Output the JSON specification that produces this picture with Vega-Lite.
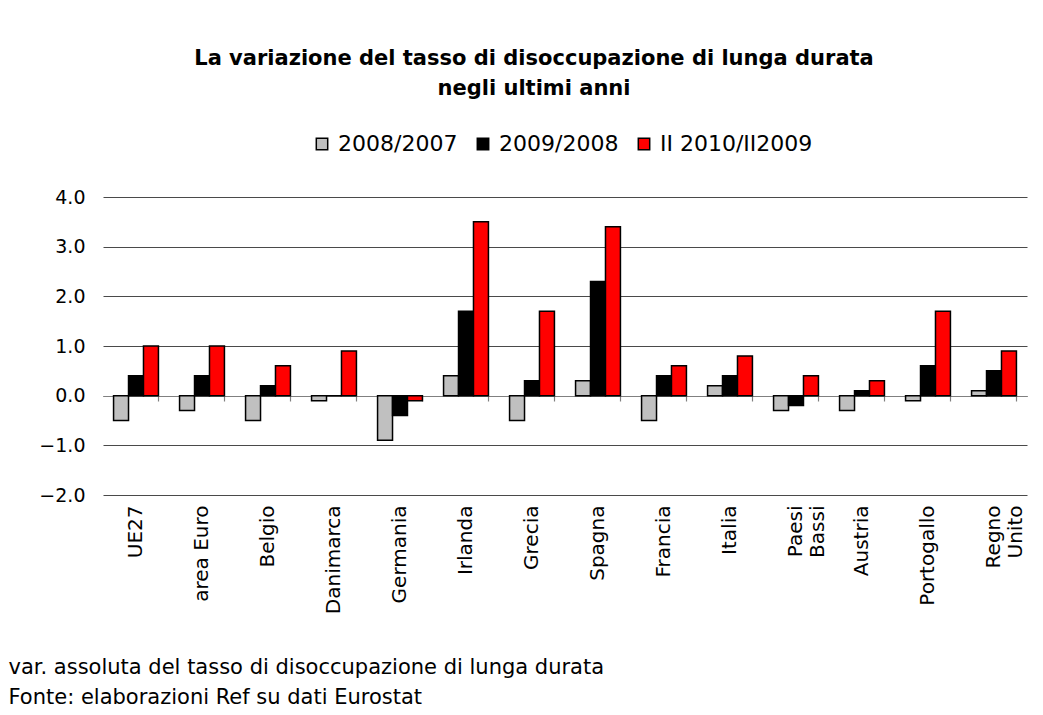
{
  "$schema": "https://vega.github.io/schema/vega-lite/v6.json",
  "width": 924,
  "height": 298,
  "autosize": {"type": "none"},
  "padding": {"left": 103, "top": 197, "right": 16, "bottom": 220},
  "background": "white",
  "title": {
    "text": ["La variazione del tasso di disoccupazione di lunga durata", "negli ultimi anni"],
    "font": "DejaVu Sans",
    "fontSize": 21,
    "fontWeight": "bold",
    "color": "black",
    "lineHeight": 30,
    "anchor": "middle",
    "dx": -31,
    "offset": 34
  },
  "data": {
    "values": [
      {"country": "UE27", "series": "2008/2007", "value": -0.5},
      {"country": "UE27", "series": "2009/2008", "value": 0.4},
      {"country": "UE27", "series": "II 2010/II2009", "value": 1.0},
      {"country": "area Euro", "series": "2008/2007", "value": -0.3},
      {"country": "area Euro", "series": "2009/2008", "value": 0.4},
      {"country": "area Euro", "series": "II 2010/II2009", "value": 1.0},
      {"country": "Belgio", "series": "2008/2007", "value": -0.5},
      {"country": "Belgio", "series": "2009/2008", "value": 0.2},
      {"country": "Belgio", "series": "II 2010/II2009", "value": 0.6},
      {"country": "Danimarca", "series": "2008/2007", "value": -0.1},
      {"country": "Danimarca", "series": "2009/2008", "value": 0.0},
      {"country": "Danimarca", "series": "II 2010/II2009", "value": 0.9},
      {"country": "Germania", "series": "2008/2007", "value": -0.9},
      {"country": "Germania", "series": "2009/2008", "value": -0.4},
      {"country": "Germania", "series": "II 2010/II2009", "value": -0.1},
      {"country": "Irlanda", "series": "2008/2007", "value": 0.4},
      {"country": "Irlanda", "series": "2009/2008", "value": 1.7},
      {"country": "Irlanda", "series": "II 2010/II2009", "value": 3.5},
      {"country": "Grecia", "series": "2008/2007", "value": -0.5},
      {"country": "Grecia", "series": "2009/2008", "value": 0.3},
      {"country": "Grecia", "series": "II 2010/II2009", "value": 1.7},
      {"country": "Spagna", "series": "2008/2007", "value": 0.3},
      {"country": "Spagna", "series": "2009/2008", "value": 2.3},
      {"country": "Spagna", "series": "II 2010/II2009", "value": 3.4},
      {"country": "Francia", "series": "2008/2007", "value": -0.5},
      {"country": "Francia", "series": "2009/2008", "value": 0.4},
      {"country": "Francia", "series": "II 2010/II2009", "value": 0.6},
      {"country": "Italia", "series": "2008/2007", "value": 0.2},
      {"country": "Italia", "series": "2009/2008", "value": 0.4},
      {"country": "Italia", "series": "II 2010/II2009", "value": 0.8},
      {"country": "Paesi Bassi", "series": "2008/2007", "value": -0.3},
      {"country": "Paesi Bassi", "series": "2009/2008", "value": -0.2},
      {"country": "Paesi Bassi", "series": "II 2010/II2009", "value": 0.4},
      {"country": "Austria", "series": "2008/2007", "value": -0.3},
      {"country": "Austria", "series": "2009/2008", "value": 0.1},
      {"country": "Austria", "series": "II 2010/II2009", "value": 0.3},
      {"country": "Portogallo", "series": "2008/2007", "value": -0.1},
      {"country": "Portogallo", "series": "2009/2008", "value": 0.6},
      {"country": "Portogallo", "series": "II 2010/II2009", "value": 1.7},
      {"country": "Regno Unito", "series": "2008/2007", "value": 0.1},
      {"country": "Regno Unito", "series": "2009/2008", "value": 0.5},
      {"country": "Regno Unito", "series": "II 2010/II2009", "value": 0.9}
    ]
  },
  "layer": [
    {
      "mark": {"type": "bar", "stroke": "black", "strokeWidth": 1.5},
      "encoding": {
        "x": {
          "field": "country",
          "type": "nominal",
          "sort": null,
          "scale": {"paddingInner": 0.32, "paddingOuter": 0.16},
          "axis": {
            "orient": "bottom",
            "domain": false,
            "ticks": false,
            "labelAngle": -90,
            "labelAlign": "right",
            "labelBaseline": "middle",
            "labelPadding": 10,
            "labelFont": "DejaVu Sans",
            "labelFontSize": 20,
            "labelColor": "black",
            "labelExpr": "datum.label == 'Paesi Bassi' ? ['Paesi', 'Bassi'] : datum.label == 'Regno Unito' ? ['Regno', 'Unito'] : datum.label",
            "labelLineHeight": 22,
            "title": ["var. assoluta del tasso di disoccupazione di lunga durata", "Fonte: elaborazioni Ref su dati Eurostat"],
            "titleFont": "DejaVu Sans",
            "titleFontSize": 21,
            "titleFontWeight": "normal",
            "titleColor": "black",
            "titleAlign": "left",
            "titleAnchor": "start",
            "titleBaseline": "middle",
            "titleLineHeight": 30,
            "titleX": -95,
            "titleY": 172
          }
        },
        "xOffset": {"field": "series", "sort": ["2008/2007", "2009/2008", "II 2010/II2009"]},
        "y": {
          "field": "value",
          "type": "quantitative",
          "scale": {"domain": [-2, 4], "nice": false},
          "axis": {
            "values": [-2, -1, 0, 1, 2, 3, 4],
            "format": ".1f",
            "domain": false,
            "ticks": false,
            "grid": true,
            "gridColor": "#4a4a4a",
            "gridWidth": 1.2,
            "labelFont": "DejaVu Sans",
            "labelFontSize": 19,
            "labelColor": "black",
            "labelPadding": 18,
            "title": null
          }
        },
        "color": {
          "field": "series",
          "type": "nominal",
          "sort": ["2008/2007", "2009/2008", "II 2010/II2009"],
          "scale": {"domain": ["2008/2007", "2009/2008", "II 2010/II2009"], "range": ["#c0c0c0", "#000000", "#ff0000"]},
          "legend": {
            "title": null,
            "orient": "none",
            "direction": "horizontal",
            "legendX": 208,
            "legendY": -64,
            "symbolType": "square",
            "symbolSize": 130,
            "symbolStrokeColor": "black",
            "symbolStrokeWidth": 1.5,
            "labelFont": "DejaVu Sans",
            "labelFontSize": 22,
            "labelColor": "black",
            "labelOffset": 5,
            "columnPadding": 14
          }
        }
      }
    },
    {
      "mark": {"type": "tick", "opacity": 0},
      "encoding": {
        "x": {
          "field": "country",
          "type": "nominal",
          "sort": null,
          "axis": {
            "orient": "bottom",
            "offset": -99,
            "labels": false,
            "title": null,
            "domain": true,
            "domainColor": "#808080",
            "domainWidth": 1.2,
            "ticks": true,
            "tickBand": "extent",
            "tickColor": "#808080",
            "tickSize": 5,
            "tickWidth": 1.2
          }
        },
        "y": {"field": "value", "type": "quantitative"}
      }
    }
  ],
  "resolve": {"axis": {"x": "independent"}},
  "config": {"view": {"stroke": null}}
}
